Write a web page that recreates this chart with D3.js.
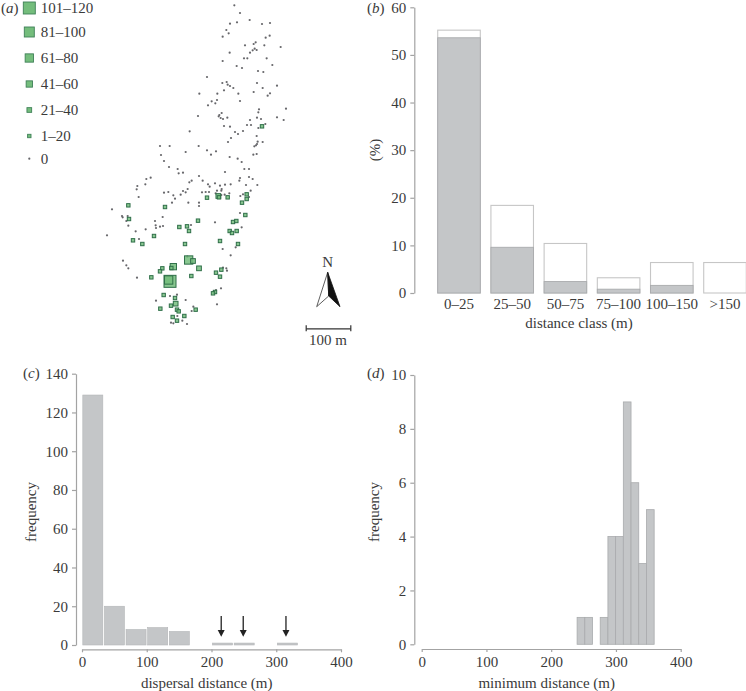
<!DOCTYPE html>
<html><head><meta charset="utf-8">
<script src="https://cdn.jsdelivr.net/npm/d3@7"></script>
<style>
html,body{margin:0;padding:0;background:#fff}
svg{display:block}
text{font-family:"Liberation Serif",serif;font-size:15px;fill:#3a3a3a}
.domain,.tick line{stroke:#a3a3a3;stroke-width:1.2px}
</style></head><body>
<svg id="c" width="746" height="691"></svg>
<script>
// (a) seedling map, in map grid units
const zeroE=[433,450,479,441,420,516,540,409,416,398,527,539,497,491,465,523,572,494,488,500,480,419,462,472,530,398,547,440,456,504,520,351,397,410,413,420,430,501,518,561,402,382,328,445,491,540,533,381,365,450,376,354,507,505,588,395,388,386,324,392,399,412,501,513,561,581,480,471,483,526,402,420,505,299,435,444,459,500,423,414,503,518,501,498,493,210,239,326,351,378,287,363,213,490,500,419,443,222,455,237,263,463,477,
266,279,405,327,450,477,488,448,298,305,182,169,142,140,166,338,354,359,375,390,405,422,468,502,395,381,394,293,279,287,272,222,235,336,347,357,377,394,404,418,451,459,482,477,146,250,255,246,295,327,327,66,96,98,113,109,115,218,195,197,198,210,219,303,450,375,455,137,167,51,147,398,437,422,99,109,115,292,141,399,409,411,393,378,261,240,198,287,381,310,305,262,277,243,250,291];
const zeroN=[16,39,60,67,71,72,69,90,100,110,113,107,127,132,136,136,141,146,151,150,158,158,175,175,175,183,195,198,204,213,216,231,249,246,254,258,264,249,264,257,271,281,281,281,276,280,287,300,304,303,310,316,328,337,326,339,345,349,348,354,357,353,353,357,352,360,360,375,375,372,378,380,384,394,396,402,393,408,414,426,425,426,432,436,439,438,438,438,451,454,456,464,465,464,462,471,476,483,486,501,507,507,507,
520,518,516,528,534,531,537,542,547,542,533,537,558,568,553,542,553,560,550,557,554,553,555,555,567,572,572,567,573,577,584,578,576,577,576,576,580,585,584,580,588,583,572,591,591,586,596,608,608,608,618,628,648,652,648,663,677,651,663,676,684,680,678,675,639,667,682,694,688,706,717,747,742,766,782,796,805,770,833,803,805,812,865,870,884,888,902,900,913,920,933,948,962,968,970,972];
const seedE=[516,115,225,351,385,387,413,470,470,456,466,429,439,117,268,291,297,324,419,426,440,192,129,157,285,390,444,296,309,250,244,217,210,327,378,394,184,304,390,240,236,375,369,221,255,257,243,211,261,266,317,283,248,261];
const seedN=[379,616,621,593,588,592,592,583,597,608,645,666,663,657,681,679,693,662,693,699,693,708,721,732,732,723,732,780,783,800,804,805,814,805,818,809,832,828,830,844,840,876,880,885,894,911,917,926,929,934,929,948,951,962];
const seedCount=[10,10,10,10,30,10,10,10,10,10,10,10,10,10,10,10,10,10,10,10,10,10,10,10,10,10,10,70,30,50,10,10,10,30,10,10,10,10,10,110,70,10,10,10,10,30,10,10,10,10,10,10,10,10];
const legendLabels=["101–120","81–100","61–80","41–60","21–40","1–20","0"];
const legendCounts=[110,90,70,50,30,10,0];

// (b) distance classes
const classes=["0–25","25–50","50–75","75–100","100–150",">150"];
const allPct=[55.2,18.4,10.4,3.2,6.4,6.4];
const subPct=[53.6,9.6,2.4,0.8,1.6,0];

// (c) dispersal distance histogram
const dispStart=[0,33.4,66.8,100.2,133.6,200.4,233.8,300.6];
const dispFreq=[129,20,8,9,7,1,1,1];
const dispWidth=33.4;
const arrowsAt=[215,249,315];

// (d) minimum distance histogram
const minStart=[240,251.9,275.7,287.6,299.5,311.4,323.3,335.2,347.1];
const minFreq=[1,1,1,4,4,9,6,3,5];
const minWidth=11.9;

const svg=d3.select("#c");
const grey="#c4c6c8",greyEdge="#a9abad";

function label(t,x,y){
  const g=svg.append("text").attr("x",x).attr("y",y);
  g.append("tspan").text("(");
  g.append("tspan").attr("font-style","italic").text(t);
  g.append("tspan").text(")");
}
function vtitle(t,x,y){
  svg.append("text").attr("transform",`translate(${x},${y}) rotate(-90)`).attr("text-anchor","middle").text(t);
}
function htitle(t,x,y){
  svg.append("text").attr("x",x).attr("y",y).attr("text-anchor","middle").text(t);
}
function yAxis(scale,x,ticks){
  const a=svg.append("g").attr("transform",`translate(${x},0)`)
    .call(d3.axisLeft(scale).tickValues(ticks).tickSize(4).tickSizeOuter(0).tickPadding(4));
  a.selectAll("text").style("font-size","15px");
  return a;
}

// Panel a
const mx=d3.scaleLinear().domain([0,630]).range([90,300]);
const my=d3.scaleLinear().domain([0,1005]).range([0,335]);
const size=d3.scaleOrdinal().domain(legendCounts).range([12,10,8.3,6.3,4.7,3.4,2.2]);
label("a",1,13);
svg.append("g").selectAll("circle").data(zeroE).join("circle")
  .attr("cx",d=>mx(d)).attr("cy",(d,i)=>my(zeroN[i])).attr("r",size(0)/2).attr("fill","#66666a");
svg.append("g").selectAll("rect").data(seedE).join("rect")
  .attr("x",(d,i)=>mx(d)-size(seedCount[i])/2)
  .attr("y",(d,i)=>my(seedN[i])-size(seedCount[i])/2)
  .attr("width",(d,i)=>size(seedCount[i])).attr("height",(d,i)=>size(seedCount[i]))
  .attr("fill","#74bd7c").attr("fill-opacity",.85).attr("stroke","#2f6f49").attr("stroke-width",1);
const legendYs=[8,32,58,84,110,136,158.7];
const lg=svg.append("g").selectAll("g").data(legendLabels).join("g")
  .attr("transform",(d,i)=>`translate(29.3,${legendYs[i]})`);
lg.filter(d=>d!=="0").append("rect")
  .attr("x",(d,i)=>-size(legendCounts[i])/2).attr("y",(d,i)=>-size(legendCounts[i])/2)
  .attr("width",(d,i)=>size(legendCounts[i])).attr("height",(d,i)=>size(legendCounts[i]))
  .attr("fill","#74bd7c").attr("stroke","#3f8058").attr("stroke-width",.9);
lg.filter(d=>d==="0").append("circle").attr("r",1.1).attr("fill","#66666a");
lg.append("text").attr("x",11.5).attr("y",5).text(d=>d);

// North arrow and scale bar
const tip=[327.7,272.3],mid=[328.7,296],bl=[316.7,306.7],br=[340,306.7];
const na=svg.append("g");
na.append("path").attr("d",d3.line()([tip,mid,bl,tip])).attr("fill","#fff").attr("stroke","#333").attr("stroke-width",.8);
na.append("path").attr("d",d3.line()([tip,mid,br,tip])).attr("fill","#111").attr("stroke","#111").attr("stroke-width",.8);
htitle("N",327.7,267);
const barM=d3.scaleLinear().domain([0,100]).range([305.7,350.3]);
const bar=svg.append("g").attr("transform","translate(0,328.3)").call(d3.axisBottom(barM).tickValues([0,100]).tickSize(3).tickSizeOuter(0).tickFormat(""));
bar.selectAll(".domain,.tick line").style("stroke","#333");
bar.selectAll(".tick line").attr("y1",-3).attr("y2",3);
htitle("100 m",328,345);

// Panel b
const bx=d3.scaleBand().domain(classes).range([432.4,751.6]).paddingInner(.2).paddingOuter(.1);
const by=d3.scaleLinear().domain([0,60]).range([293,7.3]);
label("b",367,13);
yAxis(by,414.3,d3.range(0,61,10));
svg.append("g").selectAll("rect").data(classes).join("rect")
  .attr("x",d=>bx(d)).attr("width",bx.bandwidth())
  .attr("y",(d,i)=>by(allPct[i])).attr("height",(d,i)=>by(0)-by(allPct[i]))
  .attr("fill","#fff").attr("stroke","#c6c6c6").attr("stroke-width",1.1);
svg.append("g").selectAll("rect").data(classes.filter((d,i)=>subPct[i]>0)).join("rect")
  .attr("x",d=>bx(d)).attr("width",bx.bandwidth())
  .attr("y",(d,i)=>by(subPct[i])).attr("height",(d,i)=>by(0)-by(subPct[i]))
  .attr("fill",grey).attr("stroke",greyEdge).attr("stroke-width",.9);
const bxa=svg.append("g").attr("transform","translate(0,293)").call(d3.axisBottom(bx).tickSize(0).tickPadding(5));
bxa.select(".domain").remove();
bxa.selectAll("text").style("font-size","15px");
htitle("distance class (m)",579,328);
vtitle("(%)",380,150);

// Panel c
const cx=d3.scaleLinear().domain([0,400]).range([82,341]);
const cy=d3.scaleLinear().domain([0,140]).range([645,373.7]);
label("c",23,378);
yAxis(cy,76,d3.range(0,141,20));
svg.append("g").attr("transform","translate(0,649.3)").call(d3.axisBottom(cx).tickValues([0,100,200,300,400]).tickSize(3).tickSizeOuter(0).tickPadding(4)).selectAll("text").style("font-size","15px");
svg.append("g").selectAll("rect").data(dispStart).join("rect")
  .attr("x",d=>cx(d)+.8).attr("width",cx(dispWidth)-cx(0)-1.6)
  .attr("y",(d,i)=>cy(dispFreq[i])).attr("height",(d,i)=>cy(0)-cy(dispFreq[i]))
  .attr("fill",grey).attr("stroke","#b4b6b8").attr("stroke-width",.6);
const ar=svg.append("g").selectAll("g").data(arrowsAt).join("g");
ar.append("line").attr("x1",d=>cx(d)).attr("x2",d=>cx(d)).attr("y1",cy(15)).attr("y2",cy(7)).attr("stroke","#222").attr("stroke-width",1.3);
ar.append("path").attr("d",d=>d3.line()([[cx(d)-3.5,cy(7.7)],[cx(d)+3.5,cy(7.7)],[cx(d),cy(4.2)]])+"Z").attr("fill","#222");
htitle("dispersal distance (m)",206.7,687.5);
vtitle("frequency",36,512);

// Panel d
const dx=d3.scaleLinear().domain([0,400]).range([421.7,680.7]);
const dy=d3.scaleLinear().domain([0,10]).range([644.3,375]);
label("d",367,378);
yAxis(dy,414.3,d3.range(0,11,2));
svg.append("g").attr("transform","translate(0,649)").call(d3.axisBottom(dx).tickValues([0,100,200,300,400]).tickSize(3).tickSizeOuter(0).tickPadding(4)).selectAll("text").style("font-size","15px");
svg.append("g").selectAll("rect").data(minStart).join("rect")
  .attr("x",d=>dx(d)).attr("width",dx(minWidth)-dx(0))
  .attr("y",(d,i)=>dy(minFreq[i])).attr("height",(d,i)=>dy(0)-dy(minFreq[i]))
  .attr("fill",grey).attr("stroke",greyEdge).attr("stroke-width",.8);
htitle("minimum distance (m)",546.7,687.5);
vtitle("frequency",379,512);
</script>
</body></html>
